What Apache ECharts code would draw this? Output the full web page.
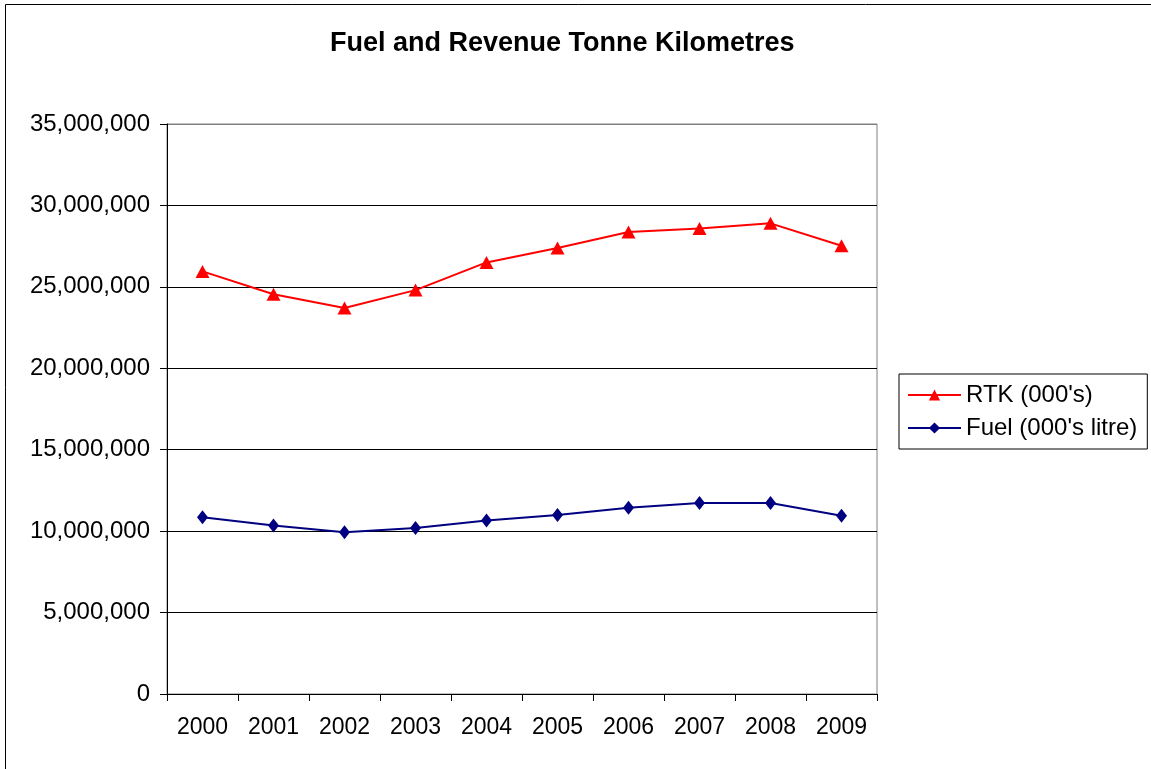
<!DOCTYPE html>
<html>
<head>
<meta charset="utf-8">
<script src="https://cdn.jsdelivr.net/npm/echarts@6/dist/echarts.min.js"></script>
<style>
html,body{margin:0;padding:0;background:#fff;}
#chart{width:1151px;height:769px;}
</style>
</head>
<body>
<div id="chart"></div>
<script>
var years = ['2000','2001','2002','2003','2004','2005','2006','2007','2008','2009'];
var rtk = [25950000, 24550000, 23700000, 24800000, 26500000, 27380000, 28370000, 28580000, 28900000, 27520000];
var fuel = [10850000, 10350000, 9930000, 10200000, 10660000, 10990000, 11430000, 11730000, 11730000, 10950000];
var yTicks = {min: 0, max: 35000000, interval: 5000000};

var chart = echarts.init(document.getElementById('chart'), null, {renderer: 'canvas'});
var font = 'Liberation Sans, Arial, sans-serif';
chart.setOption({
  animation: false,
  backgroundColor: '#fff',
  title: {
    text: 'Fuel and Revenue Tonne Kilometres',
    left: 330, top: 30, padding: 0,
    textStyle: {fontFamily: font, fontSize: 27, fontWeight: 'bold', color: '#000'}
  },
  graphic: [{
    type: 'rect', silent: true,
    shape: {x: 5.5, y: 4.5, width: 1300, height: 900},
    style: {fill: 'none', stroke: '#000', lineWidth: 1}
  }],
  legend: {
    orient: 'vertical',
    left: 899, top: 374,
    padding: [9, 10, 9, 8],
    itemWidth: 53, itemHeight: 14, itemGap: 9,
    borderColor: '#000', borderWidth: 1,
    textStyle: {fontFamily: font, fontSize: 24, color: '#000'},
    data: ['RTK (000\'s)', 'Fuel (000\'s litre)']
  },
  grid: {left: 167, top: 124, right: 274, bottom: 75, show: true, borderColor: '#808080', borderWidth: 1},
  xAxis: {
    type: 'category', data: years, boundaryGap: true,
    axisLine: {lineStyle: {color: '#000', width: 1}},
    axisTick: {show: true, alignWithLabel: false, length: 7, lineStyle: {color: '#000'}},
    axisLabel: {fontFamily: font, fontSize: 23, color: '#000', margin: 22},
    splitLine: {show: false}
  },
  yAxis: {
    type: 'value', min: yTicks.min, max: yTicks.max, interval: yTicks.interval,
    axisLine: {show: true, lineStyle: {color: '#000', width: 1}},
    axisTick: {show: true, length: 7, lineStyle: {color: '#000'}},
    axisLabel: {fontFamily: font, fontSize: 24, color: '#000', margin: 17,
      formatter: function (v) { return v.toString().replace(/\B(?=(\d{3})+(?!\d))/g, ','); }},
    splitLine: {show: true, lineStyle: {color: ['#000','#000','#000','#000','#000','#000','#000','#808080'], width: 1}}
  },
  series: [{
    name: 'RTK (000\'s)', type: 'line', data: rtk,
    symbol: 'triangle', symbolSize: [14, 13], showAllSymbol: true,
    lineStyle: {color: '#ff0000', width: 2},
    itemStyle: {color: '#ff0000'}
  }, {
    name: 'Fuel (000\'s litre)', type: 'line', data: fuel,
    symbol: 'diamond', symbolSize: [11, 14], showAllSymbol: true,
    lineStyle: {color: '#000080', width: 2},
    itemStyle: {color: '#000080'}
  }]
});
</script>
</body>
</html>
